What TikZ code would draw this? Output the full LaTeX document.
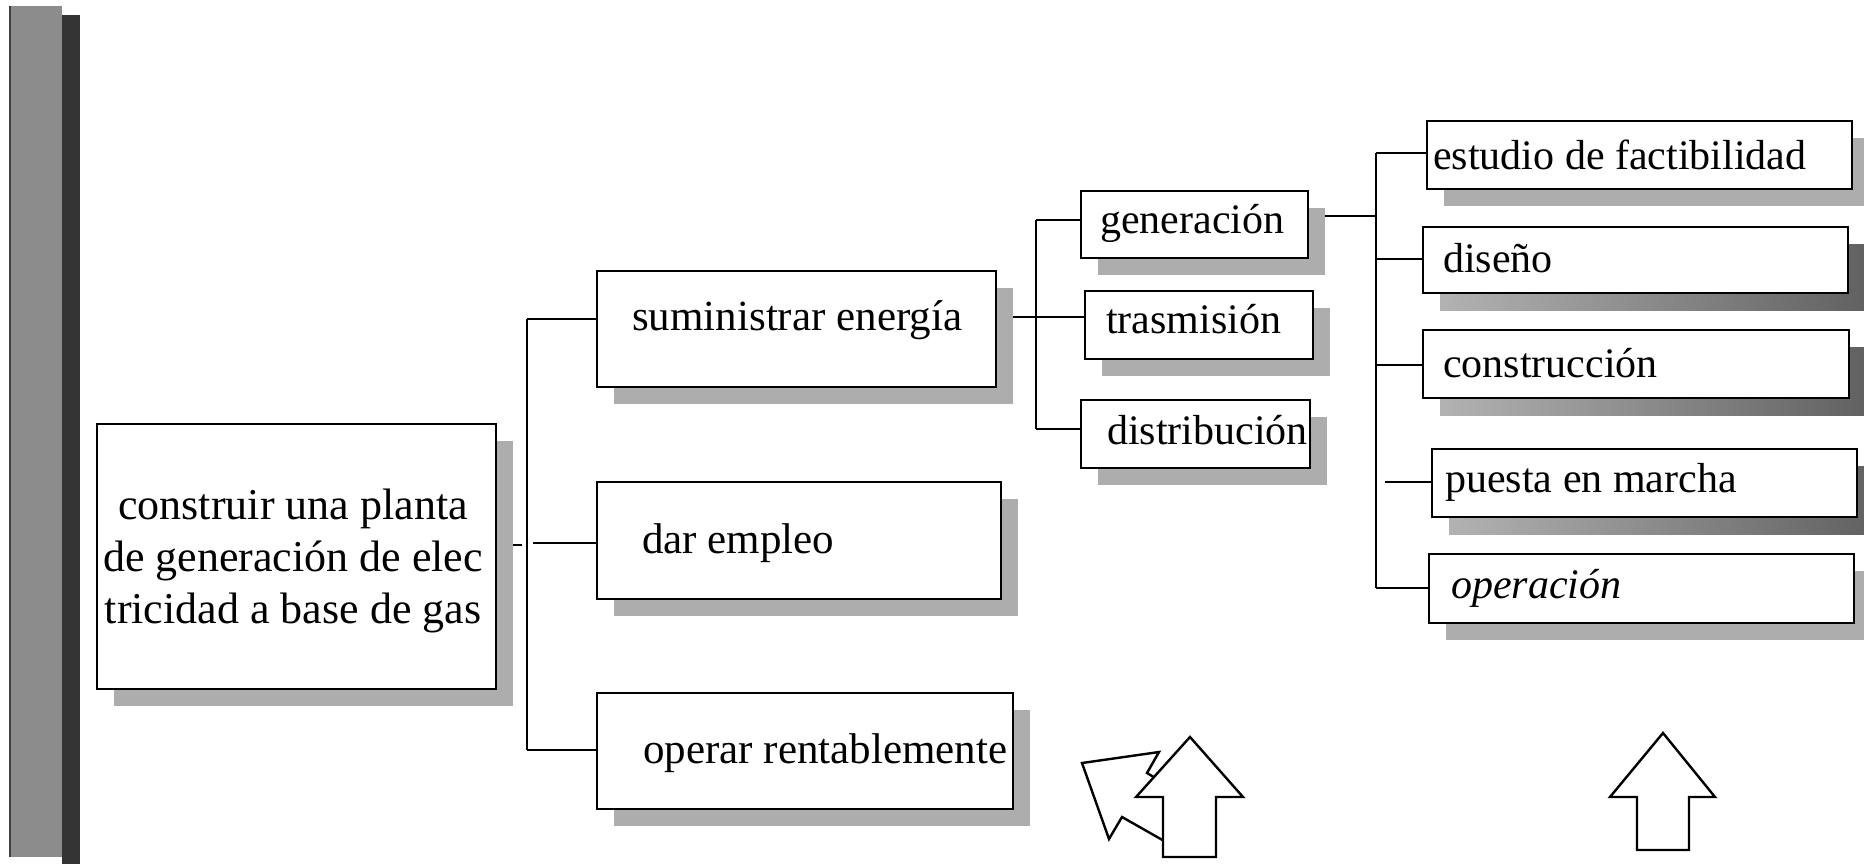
\documentclass[tikz,border=0pt]{standalone}
\usepackage{fontspec}
\setmainfont{Liberation Serif}
\usetikzlibrary{shadows,backgrounds}
\tikzset{
  basebox/.style={draw=black, line width=2.2pt, fill=white, rectangle, inner sep=0pt},
  box/.style={basebox, drop shadow={shadow xshift=17pt, shadow yshift=-17pt, fill=black!32, opacity=1}},
  dbox/.style={basebox, drop shadow={shadow xshift=17pt, shadow yshift=-17pt, left color=black!30, right color=black!62, opacity=1}},
  lbl/.style={inner sep=0pt, font=\fontsize{42}{50}\selectfont, anchor=base west},
  midlbl/.style={lbl, font=\fontsize{43}{50}\selectfont},
  mlbl/.style={inner sep=0pt, font=\fontsize{44}{52}\selectfont, anchor=base},
  conn/.style={line width=2pt, draw=black},
  bigarrow/.style={draw=black, fill=white, line width=2.4pt, line join=miter},
}
\begin{document}
\begin{tikzpicture}[x=1pt, y=-1pt]
\useasboundingbox (0,0) rectangle (1864,864);

% left bars
\fill[black!45] (9,6) rectangle (62,857);
\draw[black!75, line width=2pt] (10,6) -- (10,857);
\fill[black!80] (62,15) rectangle (80,864);

% boxes
\node[box, minimum width=399pt, minimum height=265pt] (main) at (296.5,556.5) {};
\node[box, minimum width=399pt, minimum height=116pt] (sum) at (796.5,329) {};
\node[box, minimum width=404pt, minimum height=117pt] (dar) at (799,540.5) {};
\node[box, minimum width=416pt, minimum height=116pt] (ope) at (805,751) {};
\node[box, minimum width=227pt, minimum height=67pt] (gen) at (1194.5,224.5) {};
\node[box, minimum width=228pt, minimum height=68pt] (tra) at (1199,325) {};
\node[box, minimum width=229pt, minimum height=68pt] (dis) at (1195.5,434) {};
\node[box, minimum width=425pt, minimum height=68pt] (est) at (1639.5,155) {};
\node[dbox, minimum width=425pt, minimum height=66pt] (dise) at (1635.5,260) {};
\node[dbox, minimum width=426pt, minimum height=68pt] (con) at (1636,364) {};
\node[dbox, minimum width=425pt, minimum height=68pt] (pue) at (1644.5,483) {};
\node[box, minimum width=425pt, minimum height=69pt] (opn) at (1641.5,588.5) {};

% labels
\node[mlbl] (m1) at (293,519) {construir una planta};
\node[mlbl] (m2) at (293,571) {de generación de elec};
\node[mlbl] (m3) at (293,623) {tricidad a base de gas};
\node[midlbl] (tsum) at (632,330) {suministrar energía};
\node[midlbl] (tdar) at (642,553) {dar empleo};
\node[midlbl] (tope) at (643,763) {operar rentablemente};
\node[lbl] (tgen) at (1100,233) {generación};
\node[lbl] (ttra) at (1106,333) {trasmisión};
\node[lbl] (tdis) at (1107,444) {distribución};
\node[lbl] (test) at (1433,170) {estudio de factibilidad};
\node[lbl] (tdise) at (1443,272) {diseño};
\node[lbl] (tcon) at (1443,377) {construcción};
\node[lbl] (tpue) at (1445,492) {puesta en marcha};
\node[lbl] (topn) at (1451,598) {\itshape operación};

% connectors (behind the boxes and their shadows)
\begin{pgfonlayer}{background}
\fill[white] (0,0) rectangle (1864,864);
\coordinate (b1t) at (527,319);
\coordinate (b1b) at (527,750);
\coordinate (b1d) at (533,543);
\coordinate (mst) at (522,545);
\draw[conn] (b1t) -- (b1b);
\draw[conn] (b1t) -- (b1t -| sum.west);
\draw[conn] (b1b) -- (b1b -| ope.west);
\draw[conn] (b1d) -- (b1d -| dar.west);
\draw[conn] (mst -| main.east) -- (mst);

\coordinate (b2t) at (1036,220);
\coordinate (b2b) at (1036,429);
\coordinate (b2m) at (1036,317);
\draw[conn] (b2t) -- (b2b);
\draw[conn] (b2t) -- (b2t -| gen.west);
\draw[conn] (b2b) -- (b2b -| dis.west);
\draw[conn] (b2m -| sum.east) -- (b2m -| tra.west);

\coordinate (b3t) at (1376,153);
\coordinate (b3b) at (1376,588);
\coordinate (b3g) at (1376,216);
\coordinate (b3d) at (1376,259);
\coordinate (b3c) at (1376,365);
\coordinate (b3p) at (1385,482);
\draw[conn] (b3t) -- (b3b);
\draw[conn] (b3g -| gen.east) -- (b3g);
\draw[conn] (b3t) -- (b3t -| est.west);
\draw[conn] (b3d) -- (b3d -| dise.west);
\draw[conn] (b3c) -- (b3c -| con.west);
\draw[conn] (b3p) -- (b3p -| pue.west);
\draw[conn] (b3b) -- (b3b -| opn.west);
\end{pgfonlayer}

% hollow arrows
\draw[bigarrow] (1082,763) -- (1159,752) -- (1147,773) -- (1205,808) -- (1180,850) -- (1122,817) -- (1109,839) -- cycle;
\draw[bigarrow] (1190,737) -- (1243,797) -- (1216,797) -- (1216,857) -- (1163,857) -- (1163,797) -- (1136,797) -- cycle;
\draw[bigarrow] (1663,733) -- (1715,797) -- (1689,797) -- (1689,850) -- (1637,850) -- (1637,797) -- (1610,797) -- cycle;
\end{tikzpicture}
\end{document}
